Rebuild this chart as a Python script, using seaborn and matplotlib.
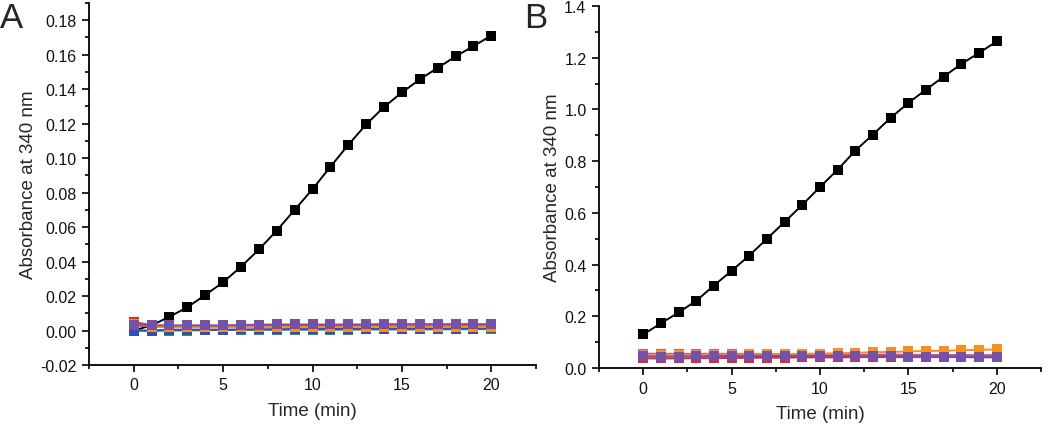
import numpy as np
import pandas as pd
import matplotlib
matplotlib.use("Agg")
import matplotlib.pyplot as plt
import seaborn as sns
from matplotlib.ticker import MultipleLocator, FormatStrFormatter

sns.set_style("ticks")
plt.rcParams['font.family'] = ['Liberation Sans', 'DejaVu Sans']

time = list(range(21))

# Panel A
a_black = [0.000, 0.003, 0.008, 0.0135, 0.0206, 0.028, 0.037, 0.047, 0.058, 0.070, 0.082,
           0.095, 0.1077, 0.1196, 0.1297, 0.1381, 0.1457, 0.1524, 0.159, 0.165, 0.1711]
a_red = [0.005, 0.003, 0.002, 0.002, 0.002, 0.0022, 0.0025, 0.0027, 0.003, 0.003, 0.003,
         0.0032, 0.0032, 0.0033, 0.0035, 0.0035, 0.0035, 0.0035, 0.0035, 0.0035, 0.0035]
a_green = [0.000, -0.0003, 0.000, 0.000, 0.0002, 0.0003, 0.0003, 0.0004, 0.0004, 0.0005, 0.0005,
           0.0005, 0.0005, 0.0006, 0.0006, 0.0006, 0.0006, 0.0007, 0.0007, 0.0008, 0.0008]
a_blue = [0.000, 0.000, 0.0005, 0.0005, 0.0005, 0.0005, 0.0006, 0.0007, 0.0008, 0.0008, 0.0008,
          0.0009, 0.0009, 0.001, 0.001, 0.001, 0.001, 0.001, 0.0011, 0.0011, 0.0012]
a_pink = [0.003, 0.0025, 0.0025, 0.0025, 0.0025, 0.0025, 0.0025, 0.0025, 0.0025, 0.0025, 0.0025,
          0.0025, 0.0025, 0.0025, 0.0025, 0.0025, 0.0025, 0.0025, 0.0025, 0.0025, 0.0025]
a_orange = [0.004, 0.002, 0.002, 0.0018, 0.0018, 0.0018, 0.002, 0.002, 0.002, 0.002, 0.002,
            0.002, 0.002, 0.002, 0.002, 0.002, 0.002, 0.002, 0.002, 0.002, 0.002]
a_purple = [0.003, 0.003, 0.003, 0.003, 0.003, 0.003, 0.0032, 0.0034, 0.0035, 0.0035, 0.0035,
            0.0035, 0.0035, 0.0035, 0.0036, 0.0036, 0.0036, 0.0036, 0.0036, 0.0036, 0.0036]

# Panel B
b_black = [0.130, 0.1726, 0.215, 0.260, 0.319, 0.376, 0.435, 0.500, 0.565, 0.631, 0.700,
           0.767, 0.841, 0.903, 0.968, 1.025, 1.077, 1.127, 1.176, 1.219, 1.263]
b_red = [0.037, 0.037, 0.037, 0.038, 0.038, 0.039, 0.039, 0.040, 0.040, 0.041, 0.041,
         0.041, 0.042, 0.042, 0.042, 0.042, 0.042, 0.042, 0.042, 0.042, 0.042]
b_green = [0.045, 0.045, 0.046, 0.046, 0.046, 0.047, 0.047, 0.047, 0.047, 0.048, 0.048,
           0.048, 0.048, 0.048, 0.048, 0.048, 0.048, 0.048, 0.048, 0.048, 0.048]
b_blue = [0.045, 0.045, 0.045, 0.045, 0.045, 0.045, 0.045, 0.045, 0.045, 0.045, 0.045,
          0.045, 0.045, 0.045, 0.045, 0.045, 0.045, 0.045, 0.045, 0.045, 0.045]
b_pink = [0.056, 0.055, 0.055, 0.055, 0.055, 0.055, 0.055, 0.054, 0.054, 0.053, 0.053,
          0.053, 0.052, 0.052, 0.052, 0.051, 0.051, 0.051, 0.050, 0.050, 0.050]
b_orange = [0.050, 0.050, 0.050, 0.051, 0.052, 0.052, 0.053, 0.053, 0.054, 0.055, 0.056,
            0.057, 0.059, 0.061, 0.062, 0.064, 0.066, 0.067, 0.069, 0.070, 0.072]
b_purple = [0.045, 0.044, 0.044, 0.045, 0.046, 0.047, 0.047, 0.047, 0.046, 0.046, 0.046,
            0.046, 0.046, 0.045, 0.045, 0.044, 0.043, 0.043, 0.042, 0.042, 0.041]

colors = {"black": "#000000", "red": "#E8262A", "blue": "#2F4FB8", "pink": "#D24FA2",
          "green": "#1C9A6C", "orange": "#F7901E", "purple": "#7452A8"}

panel_a = {"black": a_black, "red": a_red, "green": a_green, "blue": a_blue, "pink": a_pink,
           "orange": a_orange, "purple": a_purple}
panel_b = {"black": b_black, "red": b_red, "green": b_green, "blue": b_blue, "pink": b_pink,
           "orange": b_orange, "purple": b_purple}

fig = plt.figure(figsize=(10.5, 4.27), dpi=100)
axA = fig.add_axes([0.0848, 0.1429, 0.4257, 0.8477])
axB = fig.add_axes([0.5705, 0.1358, 0.4209, 0.8478])

def draw(ax, panel):
    for name, vals in panel.items():
        df = pd.DataFrame({"Time": time, "Abs": vals})
        ms = 6.5 if name == "black" else 7.2
        sns.lineplot(data=df, x="Time", y="Abs", ax=ax, color=colors[name],
                     marker="s", markersize=ms, markeredgewidth=0, linewidth=1.4)
    ax.set_xlim(-2.5, 22.5)
    ax.xaxis.set_major_locator(MultipleLocator(5))
    ax.xaxis.set_minor_locator(MultipleLocator(2.5))
    ax.set_xlabel("Time (min)", fontsize=13.5, labelpad=7)
    ax.set_ylabel("Absorbance at 340 nm", fontsize=13.5, labelpad=2)
    sns.despine(ax=ax)
    for s in ["left", "bottom"]:
        ax.spines[s].set_linewidth(1.3)
        ax.spines[s].set_color("black")
    ax.tick_params(axis="both", which="major", direction="out", length=5, width=1.2,
                   labelsize=11.5, color="black", labelcolor="#111111", pad=4)
    ax.tick_params(axis="both", which="minor", direction="out", length=3, width=1.2,
                   color="black")
    ax.set_facecolor("white")

draw(axA, panel_a)
axA.set_ylim(-0.02, 0.19)
axA.yaxis.set_major_locator(MultipleLocator(0.02))
axA.yaxis.set_minor_locator(MultipleLocator(0.01))
axA.yaxis.set_major_formatter(FormatStrFormatter("%.2f"))

draw(axB, panel_b)
axB.set_ylim(0.0, 1.4)
axB.yaxis.set_major_locator(MultipleLocator(0.2))
axB.yaxis.set_minor_locator(MultipleLocator(0.1))
axB.yaxis.set_major_formatter(FormatStrFormatter("%.1f"))

fig.text(0.0, 0.995, "A", fontsize=25, ha="left", va="top")
fig.text(0.499, 0.995, "B", fontsize=25, ha="left", va="top")

fig.savefig("out.png", dpi=100, facecolor="white")
